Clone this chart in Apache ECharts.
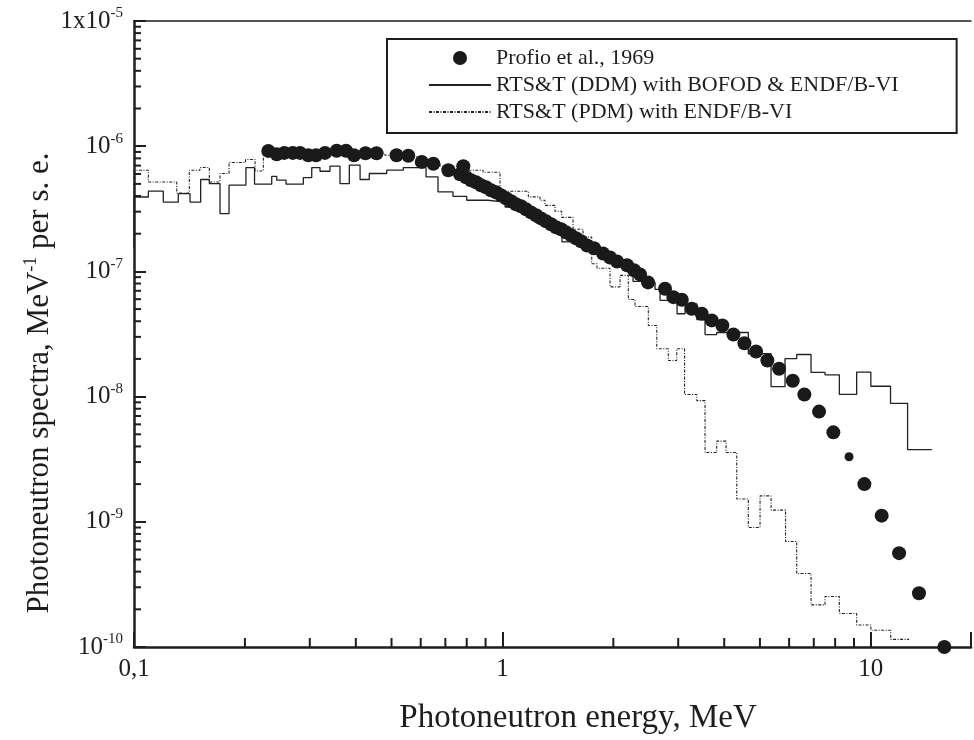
<!DOCTYPE html>
<html>
<head>
<meta charset="utf-8">
<title>Photoneutron spectra</title>
<script src="https://cdn.jsdelivr.net/npm/echarts@6/dist/echarts.min.js"></script>
<style>
  html, body { margin: 0; padding: 0; background: #fff; }
  #chart { width: 974px; height: 740px; }
</style>
</head>
<body>
<div id="chart"></div>
<script>
// Profio et al., 1969 - measured points (energy MeV, spectrum)
const profioE = [
  0.2315, 0.2440, 0.2559, 0.2697, 0.2823, 0.2973, 0.3119, 0.3300, 0.3550, 0.3763,
  0.3955, 0.4250, 0.4553, 0.5160, 0.5553, 0.6039, 0.6494, 0.7132, 0.7672, 0.7833,
  0.7966, 0.8219, 0.8479, 0.8749, 0.9026, 0.9313, 0.9607, 0.9913, 1.0228, 1.0553,
  1.0887, 1.1233, 1.1590, 1.1957, 1.2338, 1.2730, 1.3135, 1.3552, 1.3982, 1.4427,
  1.4884, 1.5357, 1.5845, 1.6349, 1.6972, 1.7731, 1.8755, 1.9594, 2.0471, 2.1787,
  2.2762, 2.3634, 2.4846, 2.763, 2.911, 3.068, 3.265, 3.475, 3.700, 3.953,
  4.236, 4.537, 4.880, 5.238, 5.635, 6.138, 6.600, 7.235, 7.911, 8.726,
  9.604, 10.70, 11.93, 13.51, 15.83
]
const profioY = [
  9.17e-7, 8.63e-7, 8.84e-7, 8.84e-7, 8.84e-7, 8.47e-7, 8.47e-7, 8.84e-7, 9.20e-7, 9.20e-7,
  8.47e-7, 8.79e-7, 8.79e-7, 8.47e-7, 8.39e-7, 7.49e-7, 7.24e-7, 6.43e-7, 5.97e-7, 6.92e-7,
  5.65e-7, 5.35e-7, 5.15e-7, 4.88e-7, 4.70e-7, 4.45e-7, 4.29e-7, 4.06e-7, 3.84e-7, 3.63e-7,
  3.44e-7, 3.31e-7, 3.13e-7, 2.96e-7, 2.81e-7, 2.65e-7, 2.51e-7, 2.38e-7, 2.25e-7, 2.17e-7,
  2.05e-7, 1.94e-7, 1.84e-7, 1.74e-7, 1.61e-7, 1.53e-7, 1.39e-7, 1.29e-7, 1.20e-7, 1.12e-7,
  1.02e-7, 9.46e-8, 8.17e-8, 7.27e-8, 6.23e-8, 5.94e-8, 5.03e-8, 4.59e-8, 4.06e-8, 3.70e-8,
  3.13e-8, 2.67e-8, 2.29e-8, 1.94e-8, 1.67e-8, 1.34e-8, 1.04e-8, 7.59e-9, 5.18e-9, 3.31e-9,
  2.00e-9, 1.12e-9, 5.62e-10, 2.69e-10, 1.0e-10
]

// RTS&T (DDM) histogram: bin left edges and bin values (last entry closes the last bin)
const ddmE = [
  0.1, 0.1, 0.1094, 0.1201, 0.1319, 0.1419, 0.1517, 0.1601, 0.1712, 0.1811,
  0.2013, 0.2124, 0.2365, 0.2440, 0.2586, 0.2882, 0.3037, 0.3198, 0.3404, 0.3623,
  0.3841, 0.4108, 0.4352, 0.4852, 0.5383, 0.6204, 0.6686, 0.7341, 0.8000, 0.9139,
  1.0164, 1.0685, 1.1446, 1.2260, 1.3131, 1.3977, 1.4512, 1.5256, 1.6240, 1.7507,
  1.8634, 1.9839, 2.1115, 2.2622, 2.3781, 2.5959, 2.6785, 2.9785, 3.1311, 3.3690,
  3.5477, 3.8155, 4.6499, 5.3597, 5.8492, 6.2914, 6.8813, 7.5104, 8.2141, 9.1522,
  10.0, 11.309, 12.582, 14.637
]
const ddmY = [
  1.53e-7, 3.93e-7, 4.37e-7, 3.58e-7, 4.18e-7, 3.58e-7, 5.42e-7, 5.03e-7, 2.89e-7, 4.88e-7,
  6.75e-7, 4.97e-7, 5.75e-7, 5.35e-7, 4.97e-7, 5.62e-7, 6.75e-7, 6.31e-7, 6.92e-7, 5.03e-7,
  7.05e-7, 5.42e-7, 6.05e-7, 6.43e-7, 6.75e-7, 5.68e-7, 4.31e-7, 3.98e-7, 3.70e-7, 3.58e-7,
  3.27e-7, 3.13e-7, 2.86e-7, 2.47e-7, 2.25e-7, 2.09e-7, 1.72e-7, 1.77e-7, 1.58e-7, 1.42e-7,
  1.27e-7, 1.16e-7, 1.06e-7, 8.32e-8, 8.17e-8, 7.18e-8, 5.86e-8, 4.59e-8, 5.51e-8, 4.13e-8,
  3.13e-8, 3.25e-8, 2.20e-8, 1.20e-8, 2.01e-8, 2.17e-8, 1.56e-8, 1.49e-8, 1.04e-8, 1.57e-8,
  1.21e-8, 8.84e-9, 3.77e-9, 3.77e-9
]

// RTS&T (PDM) histogram
const pdmE = [
  0.1, 0.1, 0.1094, 0.1306, 0.1413, 0.1510, 0.1601, 0.1712, 0.1811, 0.2008,
  0.2131, 0.2244, 0.2823, 0.3623, 0.4799, 0.5016, 0.5973, 0.6771, 0.7917, 0.8859,
  0.9851, 1.1758, 1.2647, 1.3050, 1.3890, 1.4485, 1.5544, 1.6547, 1.7474, 1.8063,
  1.9592, 2.0853, 2.1964, 2.2906, 2.4891, 2.6237, 2.8202, 2.9730, 3.1213, 3.3690,
  3.5477, 3.8155, 4.0452, 4.3251, 4.6499, 5.0033, 5.3597, 5.8676, 6.2914, 6.8813,
  7.5104, 8.2141, 9.1522, 10.0, 11.323, 12.700
]
const pdmY = [
  3.70e-7, 6.43e-7, 5.18e-7, 4.23e-7, 6.43e-7, 6.75e-7, 5.18e-7, 6.05e-7, 7.41e-7, 7.83e-7,
  6.34e-7, 8.95e-7, 9.12e-7, 8.79e-7, 8.47e-7, 8.21e-7, 7.45e-7, 6.92e-7, 6.43e-7, 6.19e-7,
  4.37e-7, 3.94e-7, 3.70e-7, 3.37e-7, 3.02e-7, 2.70e-7, 2.17e-7, 1.88e-7, 1.15e-7, 1.06e-7,
  7.52e-8, 9.29e-8, 5.97e-8, 5.25e-8, 3.70e-8, 2.41e-8, 1.94e-8, 2.41e-8, 1.04e-8, 9.29e-9,
  3.58e-9, 4.41e-9, 3.58e-9, 1.52e-9, 9.01e-10, 1.61e-9, 1.24e-9, 6.96e-10, 3.86e-10, 2.17e-10,
  2.53e-10, 1.85e-10, 1.50e-10, 1.36e-10, 1.15e-10, 1.15e-10
]

// minor tick positions
const xMinorTicks = [0.2, 0.3, 0.4, 0.5, 0.6, 0.7, 0.8, 0.9, 2, 3, 4, 5, 6, 7, 8, 9]
const tickMultipliers = [2, 3, 4, 5, 6, 7, 8, 9]
const yDecades = [-10, -9, -8, -7, -6]

// the plot runs on past the right edge of the picture
const X_MIN = 0.1
const X_MAX = 18.7
const Y_MIN = 1e-10
const Y_MAX = 1e-5
const FONT = 'Liberation Serif'
const INK = '#1e1e1e'

const yMinorTicks = []
yDecades.forEach(d => tickMultipliers.forEach(m => yMinorTicks.push(m * Math.pow(10, d))))

const smallIdx = profioE.indexOf(8.726)

function pairs(xs, ys) {
  return xs.map((x, i) => [x, ys[i]])
}

function decade(v) {
  const l = Math.log10(v)
  const e = Math.round(l)
  return Math.abs(l - e) < 0.01 ? e : null
}

function minorTicks(data, isX, len) {
  return {
    type: 'custom',
    silent: true,
    z: 6,
    data: data,
    renderItem: (params, api) => {
      const p = api.coord([api.value(0), api.value(1)])
      return {
        type: 'line',
        shape: isX
          ? { x1: p[0], y1: p[1], x2: p[0], y2: p[1] - len }
          : { x1: p[0], y1: p[1], x2: p[0] + len, y2: p[1] },
        style: { stroke: INK, lineWidth: 2 }
      }
    }
  }
}

const chart = echarts.init(document.getElementById('chart'))
chart.setOption({
  animation: false,
  backgroundColor: '#fff',
  grid: {
    left: 134,
    top: 21,
    right: 0,
    bottom: 93
  },
  legend: {
    orient: 'vertical',
    left: 387,
    top: 39,
    padding: [8, 58, 10, 41],
    itemWidth: 62,
    itemHeight: 14,
    itemGap: 5,
    borderColor: INK,
    borderWidth: 2,
    textStyle: { fontFamily: FONT, fontSize: 22, color: INK, lineHeight: 22 },
    data: [
      { name: 'Profio et al., 1969', icon: 'circle' },
      { name: 'RTS&T (DDM) with BOFOD & ENDF/B-VI', itemStyle: { opacity: 0 } },
      { name: 'RTS&T (PDM) with ENDF/B-VI', itemStyle: { opacity: 0 } }
    ]
  },
  graphic: [
    {
      type: 'text',
      x: 578,
      y: 718,
      style: {
        text: 'Photoneutron energy, MeV',
        fontFamily: FONT,
        fontSize: 33,
        fill: INK,
        align: 'center',
        verticalAlign: 'middle'
      }
    },
    {
      type: 'text',
      x: 40,
      y: 383,
      rotation: Math.PI / 2,
      style: {
        text: '{b|Photoneutron spectra, MeV}{s|-1}{b| per s. e.}',
        align: 'center',
        verticalAlign: 'middle',
        fill: INK,
        rich: {
          b: { fontFamily: FONT, fontSize: 31, lineHeight: 36, fill: INK },
          s: { fontFamily: FONT, fontSize: 18, lineHeight: 36, verticalAlign: 'top', fill: INK }
        }
      }
    }
  ],
  xAxis: [
    {
      type: 'log',
      logBase: 10,
      min: X_MIN,
      max: X_MAX,
      splitLine: { show: false },
      axisLine: { lineStyle: { color: INK, width: 2.5 } },
      axisTick: { inside: true, length: 15, lineStyle: { color: INK, width: 2 } },
      axisLabel: {
        margin: 10,
        fontFamily: FONT,
        fontSize: 25,
        color: INK,
        formatter: v => {
          const e = decade(v)
          if (e === -1) return '0,1'
          if (e === 0) return '1'
          if (e === 1) return '10'
          return ''
        }
      }
    },
    {
      // top frame line
      type: 'log',
      logBase: 10,
      position: 'top',
      min: X_MIN,
      max: X_MAX,
      splitLine: { show: false },
      axisTick: { show: false },
      axisLabel: { show: false },
      axisLine: { lineStyle: { color: INK, width: 1.5 } }
    }
  ],
  yAxis: {
    type: 'log',
    logBase: 10,
    min: Y_MIN,
    max: Y_MAX,
    splitLine: { show: false },
    axisLine: { lineStyle: { color: INK, width: 2.5 } },
    axisTick: { inside: true, length: 12, lineStyle: { color: INK, width: 2 } },
    axisLabel: {
      margin: 11,
      color: INK,
      formatter: v => {
        const e = decade(v)
        return (e === -5 ? '{b|1x10}' : '{b|10}') + '{s|' + e + '}'
      },
      rich: {
        b: { fontFamily: FONT, fontSize: 25, lineHeight: 30, color: INK },
        s: { fontFamily: FONT, fontSize: 15, lineHeight: 30, verticalAlign: 'top', color: INK }
      }
    }
  },
  series: [
    {
      name: 'RTS&T (DDM) with BOFOD & ENDF/B-VI',
      type: 'line',
      step: 'end',
      symbol: 'none',
      z: 3,
      lineStyle: { color: '#222', width: 1.3 },
      itemStyle: { color: '#222' },
      data: pairs(ddmE, ddmY)
    },
    {
      name: 'RTS&T (PDM) with ENDF/B-VI',
      type: 'line',
      step: 'end',
      symbol: 'none',
      z: 2,
      lineStyle: { color: '#222', width: 1.1, type: [3, 1.5, 1, 1.5] },
      itemStyle: { color: '#222' },
      data: pairs(pdmE, pdmY)
    },
    {
      name: 'Profio et al., 1969',
      type: 'scatter',
      z: 4,
      symbol: 'circle',
      symbolSize: (val, params) => (params.dataIndex === smallIdx ? 9 : 14),
      itemStyle: { color: '#1a1a1a', opacity: 1 },
      data: pairs(profioE, profioY)
    },
    minorTicks(xMinorTicks.map(v => [v, Y_MIN]), true, 9),
    minorTicks(yMinorTicks.map(v => [X_MIN, v]), false, 7)
  ]
})
</script>
</body>
</html>
